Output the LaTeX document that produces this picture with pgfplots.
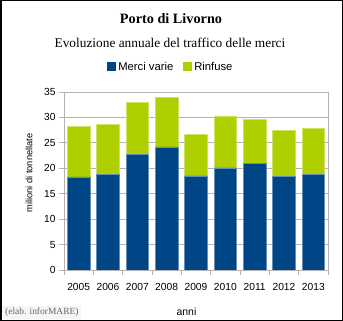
\documentclass[border=0pt]{standalone}
\usepackage{fontspec}
\setmainfont{Liberation Sans}
\newfontfamily\seriffont{Liberation Serif}
\usepackage{pgfplots}
\pgfplotsset{compat=1.18}
\definecolor{cblue}{HTML}{004586}
\definecolor{cgreen}{HTML}{B0CF00}
\definecolor{cgrid}{HTML}{B3B3B3}
\begin{document}
\begin{tikzpicture}
\useasboundingbox (0,0) rectangle (343bp,321bp);
\begin{axis}[
  at={(64bp,51bp)}, anchor=south west,
  scale only axis, width=264bp, height=178bp,
  ymin=0, ymax=35, ytick={0,5,...,35},
  xmin=-0.5, xmax=8.5,
  xtick={-0.5,0.5,...,8.5}, xticklabels={},
  extra x ticks={0,1,2,3,4,5,6,7,8},
  extra x tick labels={2005,2006,2007,2008,2009,2010,2011,2012,2013},
  extra x tick style={major tick length=0pt, grid=none},
  ymajorgrids, grid style={cgrid, line width=0.8bp},
  axis line style={cgrid, line width=0.8bp},
  tick style={cgrid, line width=0.8bp},
  tick align=outside, major tick length=5bp,
  xtick pos=bottom, ytick pos=left,
  ybar stacked, bar width=22.5bp,
  tick label style={font=\fontsize{10.3}{12}\selectfont, text=black},
  xticklabel style={yshift=-10bp},
  /pgf/number format/assume math mode=true,
  legend style={at={(0.405,1)}, anchor=south, yshift=16bp, draw=none, fill=none,
    legend columns=2, font=\fontsize{11.3}{13}\selectfont,
    /tikz/every even column/.style={column sep=8bp}},
  legend image code/.code={\path[#1,draw=none] (0bp,-4.5bp) rectangle (9bp,4.5bp);},
]
\addplot[fill=cblue, draw=cblue!60!white, line width=0.5bp] coordinates {
 (0,18.3) (1,18.8) (2,22.7) (3,24.2) (4,18.5) (5,20.1) (6,21.0) (7,18.4) (8,18.8)};
\addlegendentry{Merci varie}
\addplot[fill=cgreen, draw=cgreen!60!white, line width=0.5bp] coordinates {
 (0,9.9) (1,9.8) (2,10.2) (3,9.8) (4,8.2) (5,10.2) (6,8.6) (7,9.0) (8,9.1)};
\addlegendentry{Rinfuse}
\end{axis}
\node[font=\seriffont\bfseries\fontsize{14.3}{16}\selectfont] at (171bp,302bp) {Porto di Livorno};
\node[font=\seriffont\fontsize{13.4}{15}\selectfont] at (170bp,278bp) {Evoluzione annuale del traffico delle merci};
\node[rotate=90, font=\fontsize{9.3}{11}\selectfont] at (29bp,148bp) {milioni di tonnellate};
\node[anchor=base, font=\fontsize{10.5}{12}\selectfont] at (186.5bp,6bp) {anni};
\node[anchor=south west, fill=black!4, text=black!60, inner sep=2bp, font=\seriffont\fontsize{9.5}{11}\selectfont] at (3bp,2bp) {(elab. inforMARE)};
\draw[line width=1.5bp] (0.75bp,0.75bp) rectangle (342.25bp,320.25bp);
\end{tikzpicture}
\end{document}
